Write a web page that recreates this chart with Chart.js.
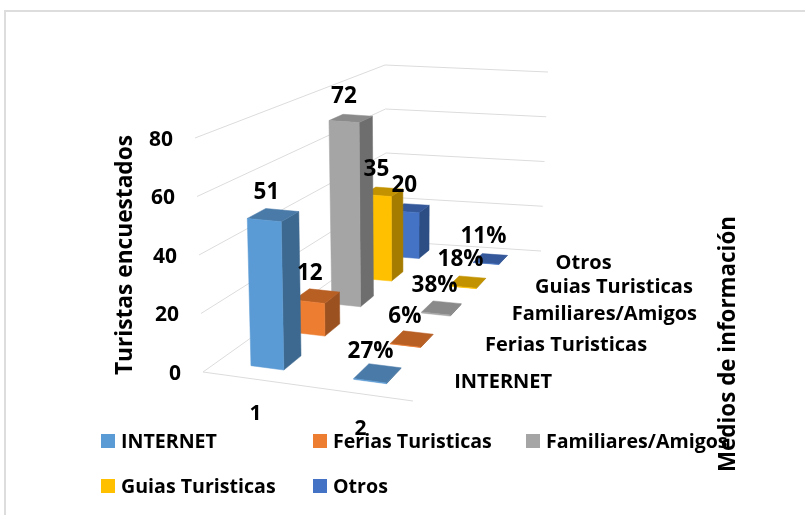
<!DOCTYPE html>
<html>
<head>
<meta charset="utf-8">
<style>
  html, body { margin: 0; padding: 0; background: #fff; }
  #wrap { position: relative; width: 805px; height: 515px; }
</style>
<script src="https://cdn.jsdelivr.net/npm/chart.js@4"></script>
</head>
<body>
<div id="wrap"><canvas id="chart"></canvas></div>
<script>
const categories = ['1', '2'];
const seriesNames = ['INTERNET', 'Ferias Turisticas', 'Familiares/Amigos', 'Guias Turisticas', 'Otros'];
const internet = [51, 0.27];
const ferias = [12, 0.06];
const familiares = [72, 0.38];
const guias = [35, 0.18];
const otros = [20, 0.11];
const seriesValues = [internet, ferias, familiares, guias, otros];
const yTicks = [0, 20, 40, 60, 80];

const frontColors = ['#5B9BD5', '#ED7D31', '#A5A5A5', '#FFC000', '#4472C4'];
const topColors = ['#4A7BA8', '#B85F24', '#8A8A8A', '#C29200', '#34589A'];
const sideColors = ['#3D688F', '#9C5220', '#6E6E6E', '#A67C00', '#2D4E85'];

const FONT = '"Open Sans", sans-serif';
const gridColor = '#DCDCDC';

// corners of the 3d box on the page: [across][depth][height]
const box = [
  [[[203, 372], [195, 138]], [[387, 241], [385, 65]]],
  [[[413, 401], [416, 156]], [[541, 251], [548, 72]]]
];
const depthWarp = 0.4;
const barWidth = 0.16;
const barDepth = 0.08;

function lerp(a, b, t) {
  return a + (b - a) * t;
}

// u across, t depth, h height, all 0..1
function project(u, t, h) {
  const d = t * (1 + depthWarp) / (1 + depthWarp * t);
  const res = [0, 1].map(k => {
    const front = lerp(lerp(box[0][0][0][k], box[1][0][0][k], u), lerp(box[0][0][1][k], box[1][0][1][k], u), h);
    const back = lerp(lerp(box[0][1][0][k], box[1][1][0][k], u), lerp(box[0][1][1][k], box[1][1][1][k], u), h);
    return lerp(front, back, d);
  });
  return { x: res[0], y: res[1] };
}

function poly(ctx, pts, color) {
  ctx.beginPath();
  pts.forEach((p, i) => i ? ctx.lineTo(p.x, p.y) : ctx.moveTo(p.x, p.y));
  ctx.closePath();
  ctx.fillStyle = color;
  ctx.fill();
  ctx.strokeStyle = color;
  ctx.lineWidth = 0.5;
  ctx.stroke();
}

function line(ctx, a, b) {
  ctx.beginPath();
  ctx.moveTo(a.x, a.y);
  ctx.lineTo(b.x, b.y);
  ctx.stroke();
}

function text(ctx, str, x, y, size, align) {
  ctx.font = 'bold ' + size + 'px ' + FONT;
  ctx.fillStyle = '#000';
  ctx.textAlign = align;
  ctx.textBaseline = 'middle';
  ctx.fillText(str, x, y);
}

const bars3d = {
  id: 'bars3d',
  beforeDatasetsDraw(chart) {
    const ctx = chart.ctx;
    const area = chart.chartArea;
    const xs = chart.scales.x;
    const ys = chart.scales.y;
    const zs = chart.scales.depth;
    const uOf = i => (xs.getPixelForValue(i) - area.left) / area.width - 0.01;
    const tOf = i => (zs.getPixelForValue(i) - area.left) / area.width;
    const hOf = v => (area.bottom - ys.getPixelForValue(v)) / area.height;

    ctx.save();

    // frame
    ctx.strokeStyle = '#DDDDDD';
    ctx.lineWidth = 2;
    ctx.strokeRect(5, 11, 900, 600);

    // walls and floor
    ctx.strokeStyle = gridColor;
    ctx.lineWidth = 1;
    yTicks.forEach(v => {
      const h = hOf(v);
      line(ctx, project(0, 0, h), project(0, 1, h));
      line(ctx, project(0, 1, h), project(1, 1, h));
    });
    line(ctx, project(0, 0, 0), project(1, 0, 0));

    // bars, back row first
    for (let s = seriesValues.length - 1; s >= 0; s--) {
      seriesValues[s].forEach((v, c) => {
        const u0 = uOf(c) - barWidth / 2, u1 = uOf(c) + barWidth / 2;
        const t0 = tOf(s) - barDepth / 2, t1 = tOf(s) + barDepth / 2;
        const h = hOf(v);
        poly(ctx, [project(u1, t0, 0), project(u1, t1, 0), project(u1, t1, h), project(u1, t0, h)], sideColors[s]);
        poly(ctx, [project(u0, t0, h), project(u1, t0, h), project(u1, t1, h), project(u0, t1, h)], topColors[s]);
        poly(ctx, [project(u0, t0, 0), project(u1, t0, 0), project(u1, t0, h), project(u0, t0, h)], frontColors[s]);
      });
    }

    // value labels
    seriesValues.forEach((vals, s) => {
      vals.forEach((v, c) => {
        const p = project(uOf(c), tOf(s), hOf(v));
        const label = v < 1 ? Math.round(v * 100) + '%' : String(v);
        text(ctx, label, p.x - 7, p.y - 22, 22.5, 'center');
      });
    });

    // y tick labels follow the slanted front edge
    ys.ticks.forEach(tick => {
      const p = project(0, 0, hOf(tick.value));
      text(ctx, tick.label, p.x - 22, p.y + 2, 21, 'right');
    });

    // category and depth labels
    categories.forEach((label, c) => {
      const p = project(uOf(c) + 0.01, 0, 0);
      text(ctx, label, p.x, p.y + 35, 21, 'center');
    });
    seriesNames.forEach((name, s) => {
      const p = project(1, tOf(s), 0);
      text(ctx, name, p.x + 24, p.y + 1, 20, 'left');
    });

    // legend
    const legendPos = [[101, 441], [313, 441], [526, 441], [101, 486], [313, 486]];
    seriesNames.forEach((name, s) => {
      const [lx, ly] = legendPos[s];
      ctx.fillStyle = frontColors[s];
      ctx.fillRect(lx, ly - 7, 14, 14);
      text(ctx, name, lx + 20, ly + 1, 19.6, 'left');
    });

    // right axis title
    ctx.translate(729, 344);
    ctx.rotate(-Math.PI / 2);
    text(ctx, 'Medios de información', 0, 0, 22.4, 'center');

    ctx.restore();
    return false;
  }
};

new Chart(document.getElementById('chart'), {
  type: 'bar',
  data: {
    labels: categories,
    datasets: seriesNames.map((name, s) => ({
      label: name,
      data: seriesValues[s],
      backgroundColor: frontColors[s]
    }))
  },
  plugins: [bars3d],
  options: {
    responsive: true,
    maintainAspectRatio: false,
    animation: false,
    layout: { padding: { left: 112, right: 392, top: 138, bottom: 143 } },
    scales: {
      x: { display: false },
      depth: { type: 'category', labels: seriesNames, axis: 'x', position: 'bottom', display: false },
      y: {
        min: 0,
        max: 80,
        afterBuildTicks(scale) {
          scale.ticks = yTicks.map(v => ({ value: v, label: String(v) }));
        },
        grid: { display: false },
        border: { display: false },
        ticks: { display: false },
        title: {
          display: true,
          text: 'Turistas encuestados',
          color: '#000',
          font: { family: FONT, size: 22.7, weight: 'bold' },
          padding: { top: 0, bottom: 64 }
        }
      }
    },
    plugins: {
      legend: { display: false },
      tooltip: { enabled: false }
    }
  }
});
</script>
</body>
</html>
